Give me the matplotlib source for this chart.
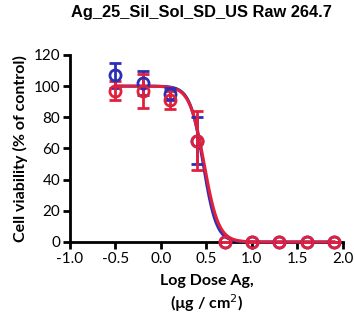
import numpy as np
import matplotlib
matplotlib.use("Agg")
import matplotlib.pyplot as plt

# log dose (ug/cm2) and viability (% of control)
log_dose = [-0.5, -0.2, 0.1, 0.4, 0.7, 1.0, 1.3, 1.6, 1.9]
blue_mean = [107, 102, 95, 65, 0, 0, 0, 0, 0]
blue_err = [8, 8, 4, 15, 0, 0, 0, 0, 0]
red_mean = [97, 97, 91, 65, 0, 0, 0, 0, 0]
red_err = [6, 11, 6, 19, 0, 0, 0, 0, 0]

# sigmoid fit parameters (top, bottom, logIC50, hill slope)
blue_fit = (100, 0, 0.465, 6.0)
red_fit = (100, 0, 0.475, 5.5)

blue = "#2b2fb5"
red = "#e3203c"

plt.rcParams["font.family"] = ["Lato", "DejaVu Sans"]

fig = plt.figure(figsize=(3.55, 3.27), dpi=100)
ax = fig.add_axes([0.197, 0.26, 0.769, 0.572])


def curve(fit, x):
    top, bottom, logic50, hill = fit
    return bottom + (top - bottom) / (1 + 10 ** ((x - logic50) * hill))


xs = np.linspace(log_dose[0], log_dose[-1], 300)
for mean, err, fit, c in [(blue_mean, blue_err, blue_fit, blue),
                          (red_mean, red_err, red_fit, red)]:
    ax.plot(xs, curve(fit, xs), color=c, lw=2.2, clip_on=False, zorder=3)
    ax.errorbar(log_dose, mean, yerr=err, fmt="o", mfc="none", mec=c,
                ecolor=c, ms=8, mew=2, elinewidth=2, capsize=4, capthick=2,
                clip_on=False, zorder=4)

ax.set_xlim(-1, 2)
ax.set_ylim(0, 120)
ax.set_xticks([-1.0, -0.5, 0.0, 0.5, 1.0, 1.5, 2.0])
ax.set_xticklabels(["-1.0", "-0.5", "0.0", "0.5", "1.0", "1.5", "2.0"])
ax.set_yticks(range(0, 121, 20))
for s in ["top", "right"]:
    ax.spines[s].set_visible(False)
for s in ["left", "bottom"]:
    ax.spines[s].set_linewidth(2)
ax.tick_params(width=2, length=5, labelsize=11, pad=2)

ax.set_title("Ag_25_Sil_Sol_SD_US Raw 264.7", fontsize=11.8, fontweight="bold",
             family=["Liberation Sans", "DejaVu Sans"], pad=27, x=0.48)
ax.set_ylabel("Cell viability (% of control)", fontsize=11.5, fontweight="bold",
              labelpad=4)
ax.set_xlabel("Log Dose Ag,\n(µg / cm$^2$)", fontsize=11.5, fontweight="bold",
              linespacing=1.25, labelpad=6)

fig.savefig("out.png", dpi=100)
